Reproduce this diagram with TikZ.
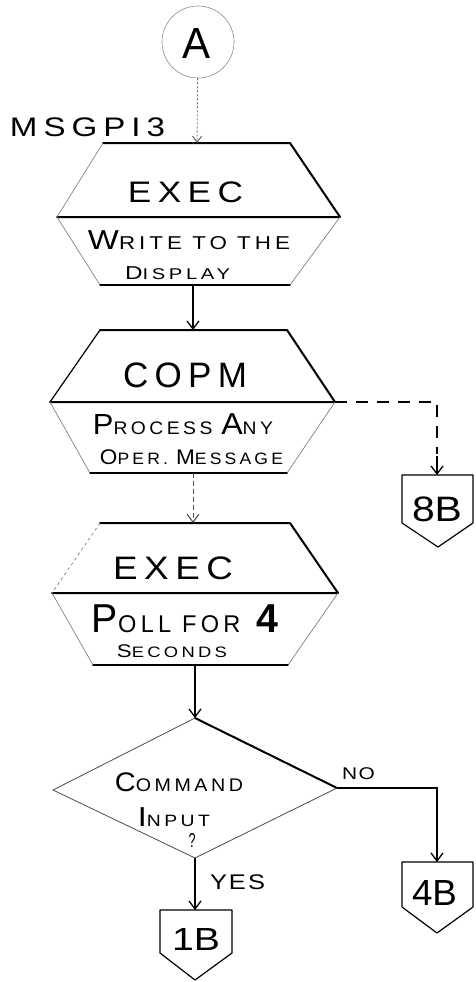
\documentclass[tikz,border=0pt]{standalone}
\usepackage{graphicx}
\usepackage{fontspec}
\setmainfont{Liberation Sans}
\usetikzlibrary{arrows.meta}
\newcommand\myfs[2]{{\fontsize{#1}{#1}\selectfont #2}}
\newcommand\fitbox[4][18]{\resizebox*{#2pt}{#3pt}{\addfontfeature{LetterSpace=#1}#4}}
\begin{document}
\begin{tikzpicture}[x=1pt,y=-1pt,
  bold/.style={line width=2pt, line cap=round, line join=round},
  mid/.style={line width=1.2pt, line cap=round, line join=round},
  faint/.style={line width=0.6pt, black!55},
  conn/.style={line width=1.3pt, -{Straight Barb[length=8pt,width=12pt,line width=1.3pt]}},
  dotconn/.style={line width=0.8pt, black!60, dash pattern=on 2pt off 2pt, -{Straight Barb[length=6pt,width=9pt,line width=1pt]}},
  txt/.style={inner sep=0pt, anchor=center},
]
\useasboundingbox (0,0) rectangle (476,982);
\fill[white] (0,0) rectangle (476,982);

% connector A
\node[draw=black!45, line width=0.6pt, circle, minimum size=72pt, inner sep=0pt] (A) at (198,42) {};
\node[txt] (Atext) at (196,43) {\fitbox[0]{28}{30}{\myfs{30}{A}}};
\node[txt] (lblmsg) at (87.5,127.5) {\fitbox{155}{19}{\myfs{24}{MSGPI3}}};

% EXEC 1
\coordinate (e1top) at (197,143);
\coordinate (e1bot) at (193,285);
\draw[bold] (103,143) -- (290,143) -- (340,217) -- (57,217);
\draw[faint] (103,143) -- (57,217) -- (100,285);
\draw[faint] (340,217) -- (290,285);
\draw[mid] (100,285) -- (290,285);
\node[txt] (t1) at (185.5,192.5) {\fitbox{115}{21}{\myfs{30}{EXEC}}};
\node[txt] (t1a) at (189,240.5) {\fitbox{202}{19}{\myfs{25}{W}\myfs{17}{RITE TO THE}}};
\node[txt] (t1b) at (177.5,273.5) {\fitbox{105}{13}{\myfs{18}{D}\myfs{15}{ISPLAY}}};

% COPM
\coordinate (c1top) at (193,330);
\coordinate (c1mid) at (335,402);
\coordinate (c1bot) at (193,473);
\draw[bold] (100,330) -- (287,330) -- (335,402) -- (50,402);
\draw[mid] (50,402) -- (100,330);
\draw[faint] (50,402) -- (90,473);
\draw[faint] (335,402) -- (287,473);
\draw[mid] (90,473) -- (287,473);
\node[txt] (t2) at (185,375.5) {\fitbox{124}{25}{\myfs{35}{COPM}}};
\node[txt] (t2a) at (183,424) {\fitbox{180}{21}{\myfs{24}{P}\myfs{15}{ROCESS }\myfs{25}{A}\myfs{15}{NY}}};
\node[txt] (t2b) at (191.5,457) {\fitbox{183}{15}{\myfs{18}{O}\myfs{14}{PER. }\myfs{18}{M}\myfs{14}{ESSAGE}}};

% 8B
\coordinate (p8top) at (437,475);
\draw[mid] (402,475) -- (473,475) -- (473,523) -- (438,547) -- (402,523) -- cycle;
\node[txt] (p8) at (437,509.5) {\fitbox[0]{50}{25}{\myfs{33}{8B}}};
\draw[line width=1.3pt, dash pattern=on 12pt off 9pt] (c1mid) -- (437,402) -- (437,454);
\draw[line width=1.3pt, -{Straight Barb[length=8pt,width=12pt,line width=1.3pt]}] (437,456) -- (p8top);

% EXEC 2
\coordinate (e2top) at (193,523);
\coordinate (e2bot) at (195,665);
\draw[bold] (100,523) -- (290,523) -- (338,593) -- (52,593);
\draw[faint, dashed] (100,523) -- (52,593);
\draw[faint] (52,593) -- (93,665);
\draw[faint] (338,593) -- (288,665);
\draw[mid] (93,665) -- (288,665);
\node[txt] (t3) at (173,568.5) {\fitbox{120}{23}{\myfs{30}{EXEC}}};
\node[txt] (t3a) at (185,619) {\fitbox{186}{28}{\myfs{25}{P}\myfs{15}{OLL FOR}\hspace{10pt}\myfs{25}{\bfseries 4}}};
\node[txt] (t3b) at (172,651.5) {\fitbox{110}{13}{\myfs{17}{S}\myfs{14}{ECONDS}}};

% decision
\coordinate (dtop) at (195,718);
\coordinate (dright) at (337,788);
\coordinate (dbot) at (195,858);
\coordinate (dleft) at (53,790);
\draw[bold] (dtop) -- (dright);
\draw[line width=0.8pt, black!70] (dright) -- (dbot) -- (dleft) -- (dtop);
\node[txt] (t4a) at (179,782.5) {\fitbox{128}{19}{\myfs{25}{C}\myfs{17}{OMMAND}}};
\node[txt] (t4b) at (174,817) {\fitbox{72}{19}{\myfs{25}{I}\myfs{15}{NPUT}}};
\node[txt] (t4c) at (192,840) {\fitbox[0]{7}{14}{\myfs{14}{?}}};

% 4B
\coordinate (p4top) at (437,862);
\draw[mid] (402,862) -- (473,862) -- (473,907) -- (437,933) -- (402,907) -- cycle;
\node[txt] (p4) at (434.5,892.5) {\fitbox[0]{45}{25}{\myfs{33}{4B}}};

% 1B
\coordinate (p1top) at (195,910);
\draw[mid] (160,910) -- (232,910) -- (232,953) -- (195,980) -- (160,953) -- cycle;
\node[txt] (p1) at (196,939) {\fitbox[0]{48}{22}{\myfs{31}{1B}}};

% connectors
\draw[dotconn] (A) -- (e1top);
\draw[conn] (e1bot) -- (c1top);
\draw[line width=0.9pt, black!70, dash pattern=on 5pt off 3pt, -{Straight Barb[length=8pt,width=12pt,line width=1.1pt]}] (c1bot) -- (e2top);
\draw[conn] (e2bot) -- (dtop);
\draw[conn] (dbot) -- (p1top);
\node[txt] (yes) at (237.5,882.5) {\fitbox[8]{55}{15}{\myfs{20}{YES}}};
\draw[conn] (dright) -- (437,788) -- (p4top);
\node[txt] (no) at (358.5,774) {\fitbox[8]{33}{12}{\myfs{16}{NO}}};
\end{tikzpicture}
\end{document}
